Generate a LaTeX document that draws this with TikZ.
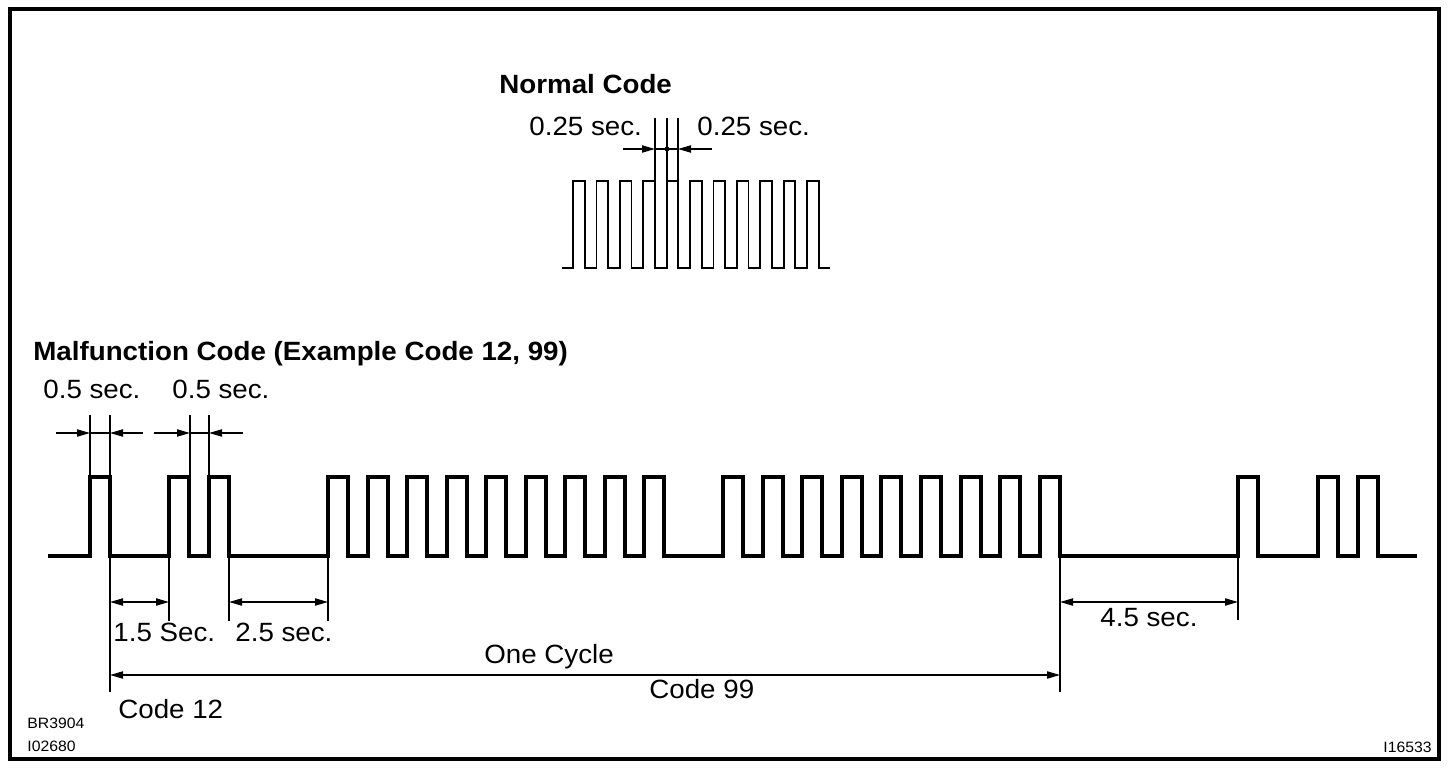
\documentclass[tikz,border=0pt]{standalone}
\usepackage{fontspec}
\setmainfont{Liberation Sans}[FakeStretch=1.05]
\usetikzlibrary{arrows.meta}
\tikzset{
  wave/.style={line width=2pt, line join=miter, line cap=butt},
  nwave/.style={line width=0.9pt, line join=miter},
  ext/.style={line width=0.6pt},
  dim/.style={line width=0.7pt},
  dimarr/.style={dim, -{Triangle[length=6.5pt,width=3.6pt]}},
  dimboth/.style={dim, {Triangle[length=6.5pt,width=3.6pt]}-{Triangle[length=6.5pt,width=3.6pt]}},
  lbl/.style={inner sep=0pt, anchor=base west, font=\fontsize{13.2}{15}\selectfont},
  ttl/.style={inner sep=0pt, anchor=base west, font=\fontsize{13.2}{15}\selectfont\bfseries},
  small/.style={inner sep=0pt, anchor=base west, font=\fontsize{7.5}{9}\selectfont},
}
\begin{document}
\begin{tikzpicture}[x=0.5pt,y=-0.5pt]
\useasboundingbox (0,0) rectangle (1456,776);
% frame
\draw[line width=2pt] (10,9) rectangle (1439,759);

% ---------------- Normal code ----------------
\node[ttl] (ntitle) at (499,93) {Normal Code};
\node[lbl] (nl) at (529,135) {0.25 sec.};
\node[lbl] (nr) at (697,135) {0.25 sec.};
\draw[nwave] (562,268)
  foreach \r in {573,596.4,619.8,643.2,666.6,690,713.4,736.8,760.2,783.6,807}
  { -- (\r,268) -- (\r,181) -- ({\r+11.7},181) -- ({\r+11.7},268) } -- (830,268);
\coordinate (na1) at (655,118); \coordinate (nb1) at (655,181);
\coordinate (na2) at (667,118); \coordinate (nb2) at (667,181);
\coordinate (na3) at (678,118); \coordinate (nb3) at (678,181);
\draw[ext] (na1) -- (nb1) (na2) -- (nb2) (na3) -- (nb3);
\coordinate (nd0) at (623,149); \coordinate (nd1) at (655,149);
\coordinate (nd3) at (678,149); \coordinate (nd4) at (712,149);
\draw[dimarr] (nd0) -- (nd1);
\draw[dimarr] (nd4) -- (nd3);
\draw[dim] (nd1) -- (nd3);
\fill (667,149) circle (1.2pt);

% ---------------- Malfunction code ----------------
\node[ttl] (mtitle) at (33,360) {Malfunction Code (Example Code 12, 99)};
\node[lbl] (h1) at (43,398) {0.5 sec.};
\node[lbl] (h2) at (172,398) {0.5 sec.};

\draw[wave] (48,556)
  foreach \r in {90,169,209,328,367.5,407,446.5,486,525.5,565,604.5,644,
                 723,762.6,802.2,841.8,881.4,921,960.6,1000.2,1039.8,1238,1318,1358}
  { -- (\r,556) -- (\r,477) -- ({\r+20},477) -- ({\r+20},556) } -- (1417,556);

% top extension lines and 0.5 sec dimensions
\draw[ext] (90,415) -- (90,477) (110,415) -- (110,477)
           (190,415) -- (190,477) (209,415) -- (209,477);
\coordinate (a0) at (56,433); \coordinate (a1) at (90,433);
\coordinate (a2) at (110,433); \coordinate (a3) at (143,433);
\draw[dimarr] (a0) -- (a1);
\draw[dimarr] (a3) -- (a2);
\draw[dim] (a1) -- (a2);
\coordinate (b0) at (154,433); \coordinate (b1) at (190,433);
\coordinate (b2) at (209,433); \coordinate (b3) at (243,433);
\draw[dimarr] (b0) -- (b1);
\draw[dimarr] (b3) -- (b2);
\draw[dim] (b1) -- (b2);

% bottom extension lines
\draw[ext] (110,556) -- (110,692)
           (169,556) -- (169,621)
           (229,556) -- (229,621)
           (328,556) -- (328,621)
           (1060,556) -- (1060,692)
           (1238,556) -- (1238,620);

\coordinate (c1) at (110,602); \coordinate (c2) at (169,602);
\coordinate (c3) at (229,602); \coordinate (c4) at (328,602);
\coordinate (c5) at (1060,602); \coordinate (c6) at (1238,602);
\coordinate (o1) at (110,675); \coordinate (o2) at (1060,675);
\draw[dimboth] (c1) -- (c2);
\draw[dimboth] (c3) -- (c4);
\draw[dimboth] (c5) -- (c6);
\draw[dimboth] (o1) -- (o2);

\node[lbl] (l15) at (113,641) {1.5 Sec.};
\node[lbl] (l25) at (235,641) {2.5 sec.};
\node[lbl] (l45) at (1100,626) {4.5 sec.};
\node[lbl] (cyc) at (484,663) {One Cycle};
\node[lbl] (c12) at (118,718) {Code 12};
\node[lbl] (c99) at (649,698) {Code 99};

\node[small] (r1) at (27,728) {BR3904};
\node[small] (r2) at (27,751) {I02680};
\node[small] (r3) at (1383,752) {I16533};
\end{tikzpicture}
\end{document}
